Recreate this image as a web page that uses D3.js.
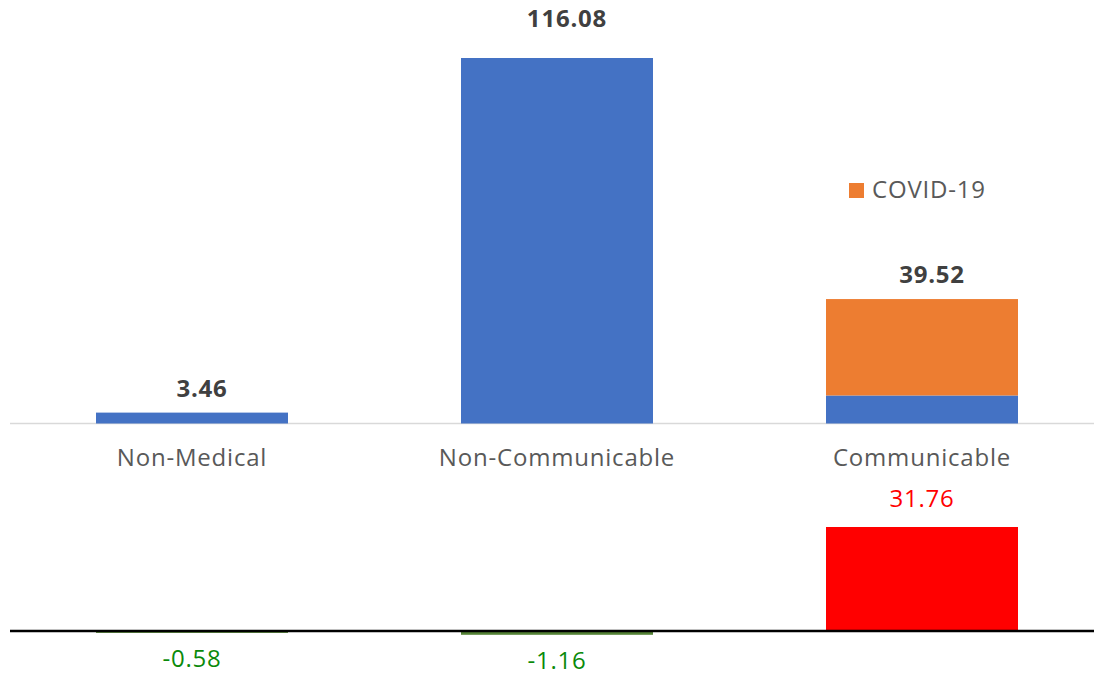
<!DOCTYPE html>
<html>
<head>
<meta charset="utf-8">
<script src="https://cdn.jsdelivr.net/npm/d3@7"></script>
<style>
  body { margin: 0; background: #fff; }
  svg { font-family: "Open Sans", sans-serif; }
  svg text { letter-spacing: 0.8px; }
</style>
</head>
<body>
<div id="chart"></div>
<script>
const categories = ['Non-Medical', 'Non-Communicable', 'Communicable'];
const baseValues = [3.46, 116.08, 8.9];
const covidValues = [0, 0, 30.62];
const totalLabels = ['3.46', '116.08', '39.52'];
const changeValues = [-0.58, -1.16, 31.76];
const changeLabels = ['-0.58', '-1.16', '31.76'];

const width = 1094;
const height = 675;

const svg = d3.select('#chart')
  .append('svg')
  .attr('width', width)
  .attr('height', height);

const x = d3.scaleBand()
  .domain(categories)
  .range([9.5, 1104.5])
  .paddingInner(0.474)
  .paddingOuter(0.237);

// top panel
const yTop = d3.scaleLinear()
  .domain([0, 116.08])
  .range([423.5, 58]);

// bottom panel
const yBot = d3.scaleLinear()
  .domain([0, 31.76])
  .range([631, 527]);

svg.append('line')
  .attr('x1', 10).attr('x2', width)
  .attr('y1', yTop(0)).attr('y2', yTop(0))
  .attr('stroke', '#d9d9d9')
  .attr('stroke-width', 1.5);

const stackData = categories.map((c, i) => ({cat: c, base: baseValues[i], covid: covidValues[i]}));
const stack = d3.stack().keys(['base', 'covid'])(stackData);
const colors = {base: '#4472c4', covid: '#ed7d31'};

svg.append('g')
  .selectAll('g')
  .data(stack)
  .join('g')
    .attr('fill', s => colors[s.key])
  .selectAll('rect')
  .data(s => s)
  .join('rect')
    .attr('x', d => x(d.data.cat))
    .attr('y', d => yTop(d[1]))
    .attr('width', x.bandwidth())
    .attr('height', d => yTop(d[0]) - yTop(d[1]));

const maxTotal = d3.max(categories, (c, i) => baseValues[i] + covidValues[i]);

// total labels sit a bit right of the bar centre, as in the original
svg.append('g')
  .selectAll('text')
  .data(categories)
  .join('text')
    .attr('x', c => x(c) + x.bandwidth() / 2 + 10)
    .attr('y', (c, i) => {
      const t = baseValues[i] + covidValues[i];
      return t === maxTotal ? 27 : yTop(t) - 16;
    })
    .attr('text-anchor', 'middle')
    .attr('font-size', '24px')
    .attr('font-weight', 'bold')
    .attr('fill', '#404040')
    .text((c, i) => totalLabels[i]);

svg.append('g')
  .attr('transform', `translate(0,${yTop(0)})`)
  .call(d3.axisBottom(x).tickSize(0).tickPadding(25))
  .call(g => g.select('.domain').remove())
  .selectAll('text')
    .attr('font-family', '"Open Sans", sans-serif')
    .attr('font-size', '24px')
    .attr('fill', '#595959');

// legend
const legend = svg.append('g').attr('transform', 'translate(849,183)');
legend.append('rect').attr('width', 15).attr('height', 15).attr('fill', colors.covid);
legend.append('text')
  .attr('x', 23).attr('y', 15)
  .attr('font-size', '24px')
  .attr('fill', '#595959')
  .text('COVID-19');

// bottom panel bars
svg.append('g')
  .selectAll('rect')
  .data(changeValues)
  .join('rect')
    .attr('x', (d, i) => x(categories[i]))
    .attr('y', d => yBot(Math.max(0, d)))
    .attr('width', x.bandwidth())
    .attr('height', d => Math.abs(yBot(d) - yBot(0)))
    .attr('fill', d => d < 0 ? '#548235' : '#ff0000');

svg.append('line')
  .attr('x1', 10).attr('x2', width)
  .attr('y1', yBot(0)).attr('y2', yBot(0))
  .attr('stroke', '#000')
  .attr('stroke-width', 2.5);

svg.append('g')
  .selectAll('text')
  .data(changeValues)
  .join('text')
    .attr('x', (d, i) => x(categories[i]) + x.bandwidth() / 2)
    .attr('y', d => d < 0 ? yBot(d) + 34 : yBot(d) - 20)
    .attr('text-anchor', 'middle')
    .attr('font-size', '24px')
    .attr('fill', d => d < 0 ? '#0a8a0a' : '#ff0000')
    .text((d, i) => changeLabels[i]);
</script>
</body>
</html>
